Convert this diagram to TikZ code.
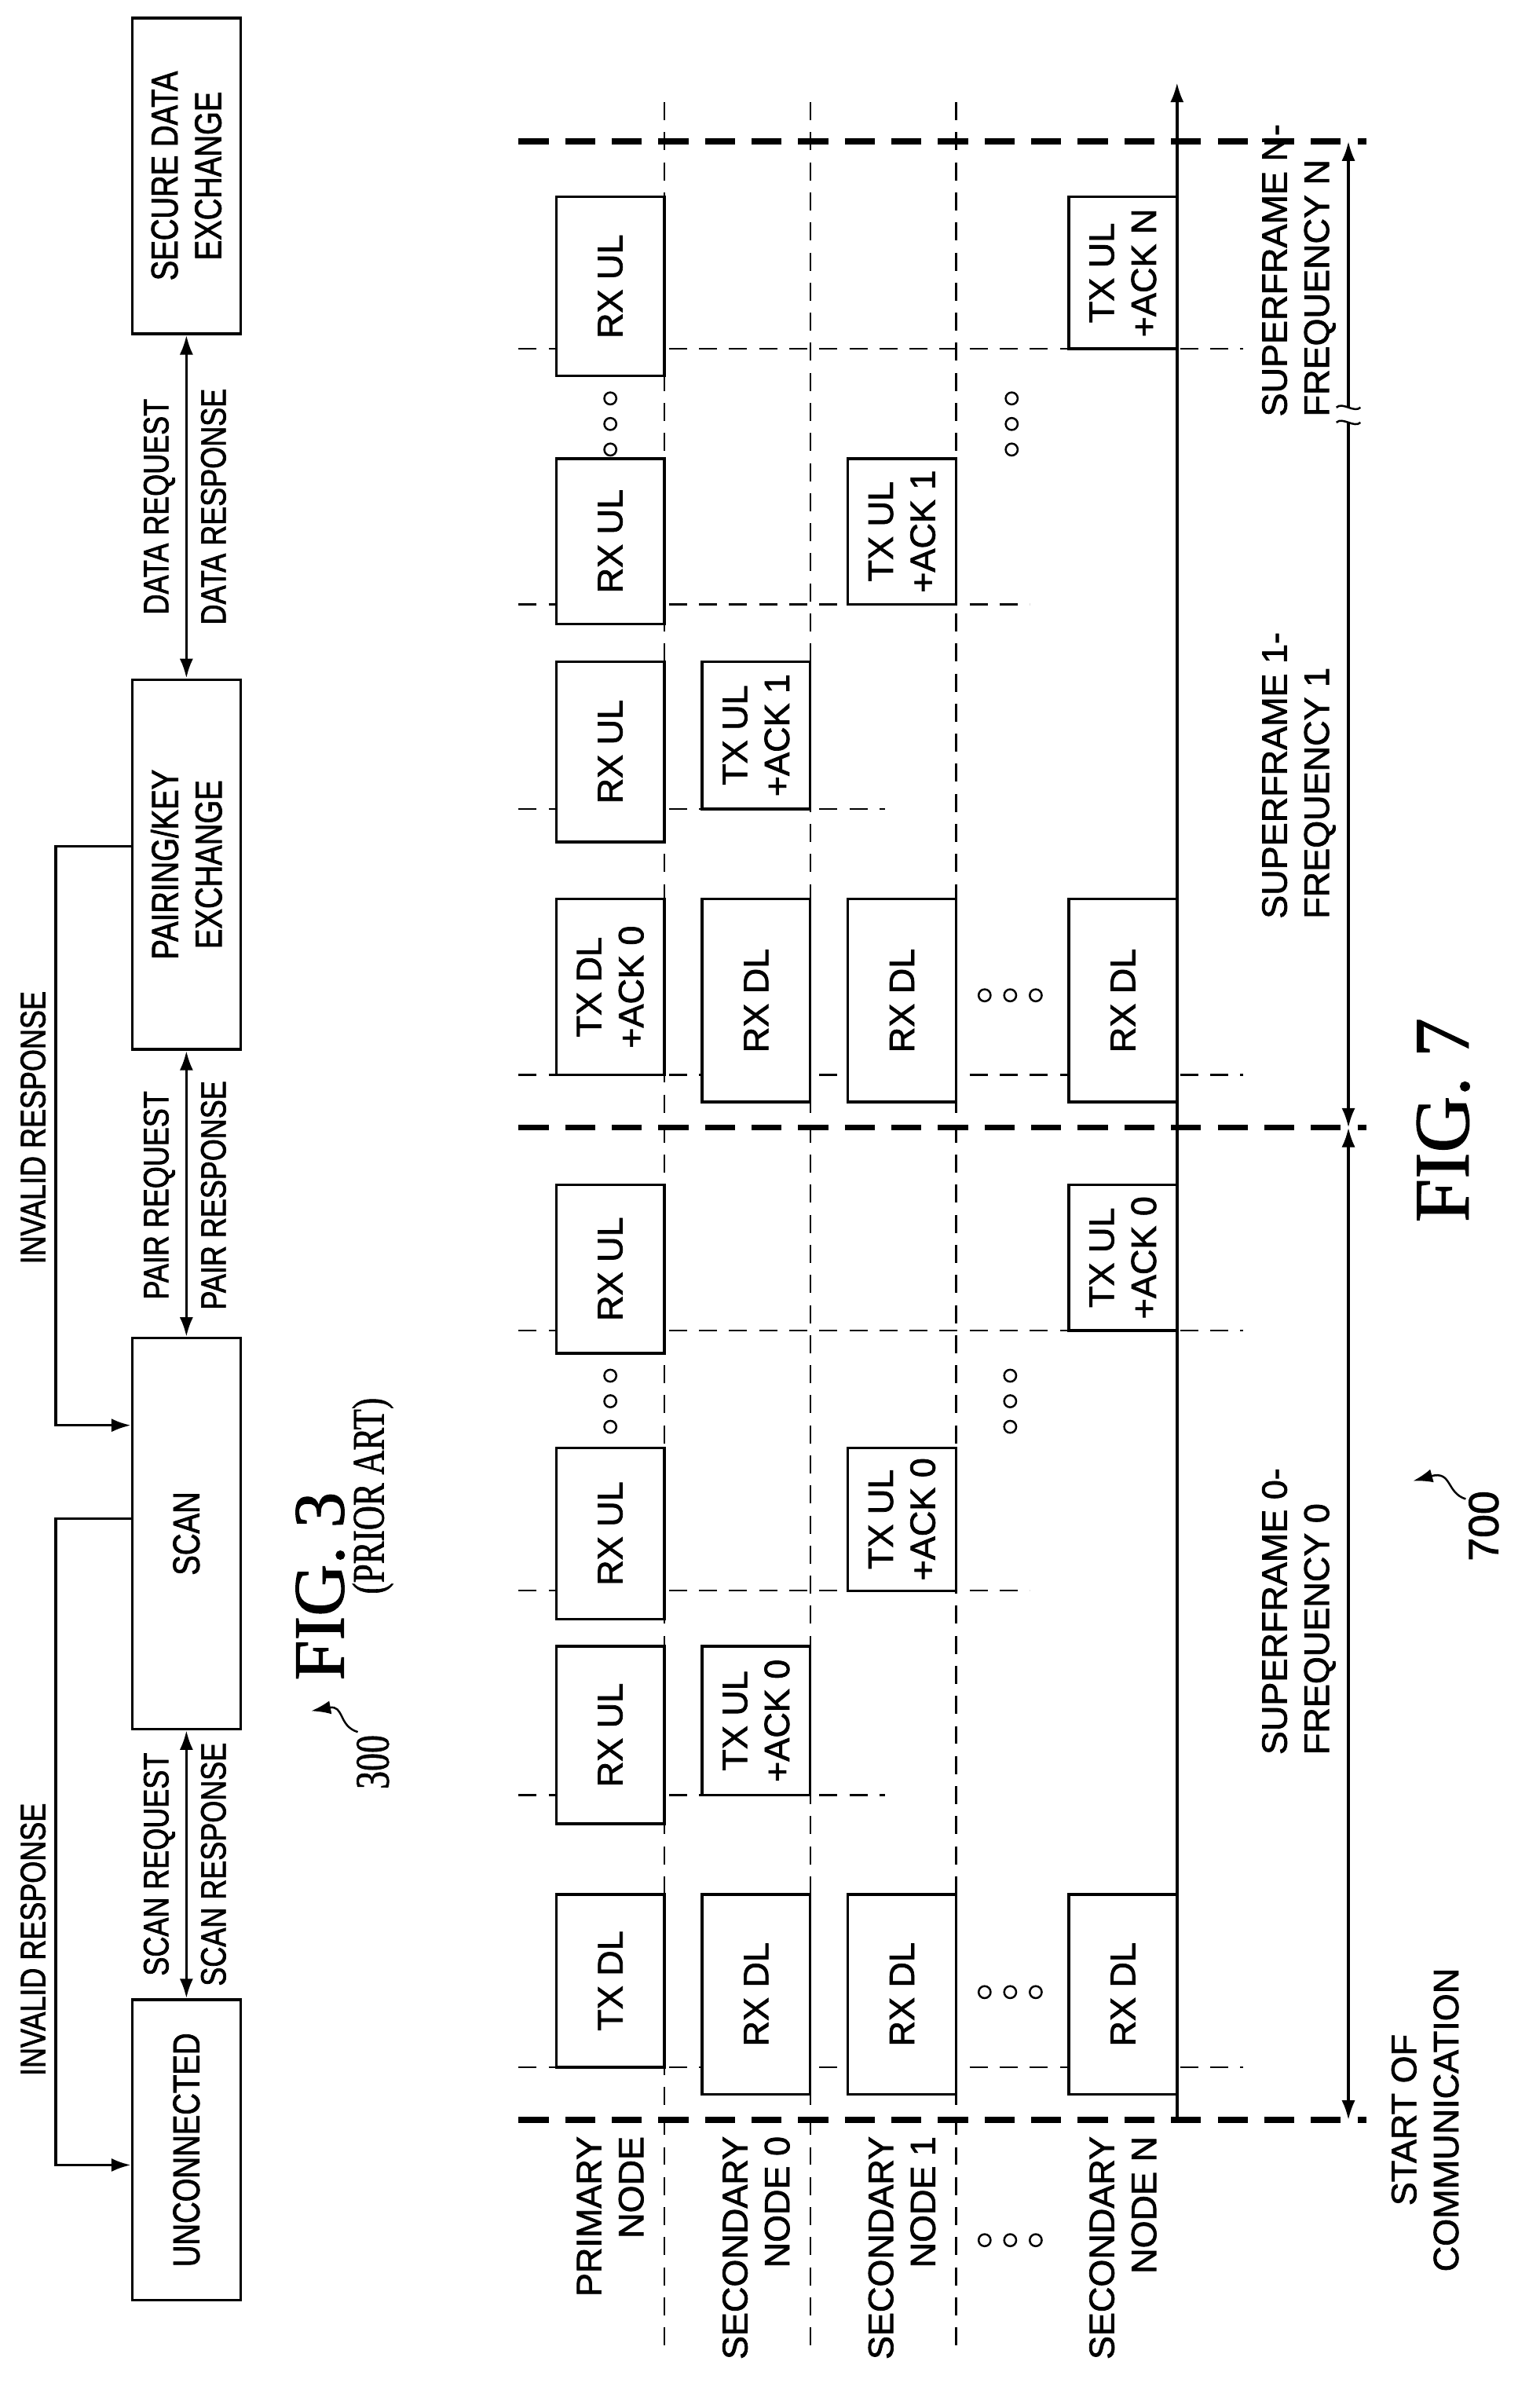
\documentclass[tikz,border=0pt]{standalone}
\usepackage{fontspec}
\setmainfont[FakeBold=1.6]{Liberation Sans}
\newfontfamily\narrowsf[FakeStretch=0.8,FakeBold=1.6]{Liberation Sans}
\newfontfamily\figserif[FakeBold=1.2]{Liberation Serif}
\newfontfamily\narrowserif[FakeStretch=0.75,FakeBold=1]{Liberation Serif}
\usetikzlibrary{arrows.meta}
\newcommand\lblsize{\fontsize{23.5}{28}\selectfont}

\tikzset{
  blk/.style 2 args={draw,line width=1.8pt,fill=white,rotate=90,minimum width=#1pt,
    minimum height=#2pt,inner sep=0pt,align=center,font=\lblsize},
  lbl/.style={rotate=90,inner sep=0pt,align=center,font=\lblsize},
  nlbl/.style={rotate=90,inner sep=0pt,align=center,font=\narrowsf\lblsize},
  slot/.style={dash pattern=on 12pt off 8pt,line width=1.3pt},
  frame/.style={dash pattern=on 20pt off 11pt,line width=4pt},
  dot/.style={circle,draw,line width=1.3pt,minimum size=8pt,inner sep=0pt},
}

\begin{document}
\begin{tikzpicture}[x=1pt,y=-1pt,>={Latex[length=13pt,width=9pt]},line width=1.8pt]
\useasboundingbox (0,0) rectangle (1024,1585);

% fig. 3 states
\node[blk={200}{72},font=\narrowsf\fontsize{25}{29}\selectfont] (uncon) at (124,1430) {UNCONNECTED};
\node[blk={260}{72},font=\narrowsf\fontsize{25}{29}\selectfont] (scan) at (124,1020) {SCAN};
\node[blk={246}{72},font=\narrowsf\fontsize{25}{29}\selectfont] (pair) at (124,575) {PAIRING/KEY\\EXCHANGE};
\node[blk={210}{72},font=\narrowsf\fontsize{25}{29}\selectfont] (secure) at (124,117) {SECURE DATA\\EXCHANGE};

\draw[<->] (uncon.east) -- (scan.west);
\draw[<->] (scan.east) -- (pair.west);
\draw[<->] (pair.east) -- (secure.west);
\node[nlbl] (scanreq) at (106,1240) {SCAN REQUEST};
\node[nlbl] (scanresp) at (142,1240) {SCAN RESPONSE};
\node[nlbl] (pairreq) at (106,795) {PAIR REQUEST};
\node[nlbl] (pairresp) at (142,795) {PAIR RESPONSE};
\node[nlbl] (datareq) at (106,337) {DATA REQUEST};
\node[nlbl] (dataresp) at (142,337) {DATA RESPONSE};

\draw[->] ([yshift=10pt]scan.north) -- ++(-50,0) |- ([yshift=-10pt]uncon.north);
\draw[->] ([yshift=12pt]pair.north) -- ++(-50,0) |- ([yshift=72pt]scan.north);
\node[nlbl] (inv1) at (22,1290) {INVALID RESPONSE};
\node[nlbl] (inv2) at (22,750) {INVALID RESPONSE};

\node[rotate=90,inner sep=0pt,font=\figserif\fontsize{48}{52}\selectfont] (fig3) at (213,1055) {FIG. 3};
\node[rotate=90,inner sep=0pt,font=\narrowserif\fontsize{30}{34}\selectfont] (prior) at (248,995) {(PRIOR ART)};
\node[rotate=90,inner sep=0pt,font=\narrowserif\fontsize{32}{36}\selectfont] (n300) at (248,1172) {300};
\draw[->,line width=1.3pt] (238,1152) .. controls (225,1148) and (229,1134) .. (207,1138);

% fig. 7 rows
\foreach \x in {442,539,636}
  \draw[slot] (\x,68) -- (\x,1560);
\foreach \y/\xe in {1375/827,1194/589,1058/685,885/827,715/827,538/589,402/685,232/827}
  \draw[slot] (345,\y) -- (\xe,\y);
\draw[frame] (345,1410) -- (909,1410);
\draw[frame] (345,750) -- (909,750);
\draw[frame] (345,94) -- (909,94);
\draw[->] (783,1410) -- (783,55);

% primary node
\node[blk={115}{72}] (ptx0) at (406,1317.5) {TX DL};
\node[blk={118}{72}] (prx1) at (406,1154) {RX UL};
\node[blk={114}{72}] (prx2) at (406,1020) {RX UL};
\node[blk={112}{72}] (prx3) at (406,844) {RX UL};
\node[blk={117}{72}] (ptx4) at (406,656.5) {TX DL\\+ACK 0};
\node[blk={120}{72}] (prx5) at (406,500) {RX UL};
\node[blk={110}{72}] (prx6) at (406,360) {RX UL};
\node[blk={119}{72}] (prx7) at (406,190.5) {RX UL};
% secondary node 0
\node[blk={133}{72}] (arx0) at (503,1326.5) {RX DL};
\node[blk={99}{72}] (atx1) at (503,1144.5) {TX UL\\+ACK 0};
\node[blk={135}{72}] (arx2) at (503,665.5) {RX DL};
\node[blk={98}{72}] (atx3) at (503,489) {TX UL\\+ACK 1};
% secondary node 1
\node[blk={133}{72}] (brx0) at (600,1326.5) {RX DL};
\node[blk={95}{72}] (btx1) at (600,1010.5) {TX UL\\+ACK 0};
\node[blk={135}{72}] (brx2) at (600,665.5) {RX DL};
\node[blk={97}{72}] (btx3) at (600,353.5) {TX UL\\+ACK 1};
% secondary node N
\node[blk={133}{72}] (nrx0) at (747,1326.5) {RX DL};
\node[blk={97}{72}] (ntx1) at (747,836.5) {TX UL\\+ACK 0};
\node[blk={135}{72}] (nrx2) at (747,665.5) {RX DL};
\node[blk={101}{72}] (ntx3) at (747,181.5) {TX UL\\+ACK N};

% dots
\foreach \y in {915,932,949} {
  \node[dot] at (406,\y) {};
  \node[dot] at (672,\y) {};
}
\foreach \y in {265,282,299} {
  \node[dot] at (406,\y) {};
  \node[dot] at (673,\y) {};
}
\foreach \x in {655,672,689} {
  \node[dot] at (\x,1325) {};
  \node[dot] at (\x,662) {};
  \node[dot] at (\x,1490) {};
}

% row labels
\node[lbl,anchor=east,align=right] (lp) at (406,1420) {PRIMARY\\NODE};
\node[lbl,anchor=east,align=right] (l0) at (503,1420) {SECONDARY\\NODE 0};
\node[lbl,anchor=east,align=right] (l1) at (600,1420) {SECONDARY\\NODE 1};
\node[lbl,anchor=east,align=right] (ln) at (747,1420) {SECONDARY\\NODE N};
\node[lbl] (start) at (948,1410) {START OF\\COMMUNICATION};

% superframes
\draw[<->] (897,1410) -- (897,750);
\draw[<-] (897,750) -- (897,281);
\draw[->] (897,271) -- (897,94);
\draw[line width=1.3pt] (889,281) .. controls (893,277) and (901,285) .. (905,281);
\draw[line width=1.3pt] (889,271) .. controls (893,267) and (901,275) .. (905,271);
\node[lbl,anchor=west,align=left] (sf0) at (864,1168) {SUPERFRAME 0-\\FREQUENCY 0};
\node[lbl,anchor=west,align=left] (sf1) at (864,612) {SUPERFRAME 1-\\FREQUENCY 1};
\node[lbl,anchor=west,align=left] (sfn) at (864,278) {SUPERFRAME N-\\FREQUENCY N};

\node[rotate=90,inner sep=0pt,font=\figserif\fontsize{52}{56}\selectfont] (fig7) at (960,745) {FIG. 7};
\node[lbl,font=\fontsize{28}{32}\selectfont] (n700) at (987,1015) {700};
\draw[->,line width=1.3pt] (975,997) .. controls (962,993) and (966,978) .. (940,985);
\end{tikzpicture}
\end{document}
